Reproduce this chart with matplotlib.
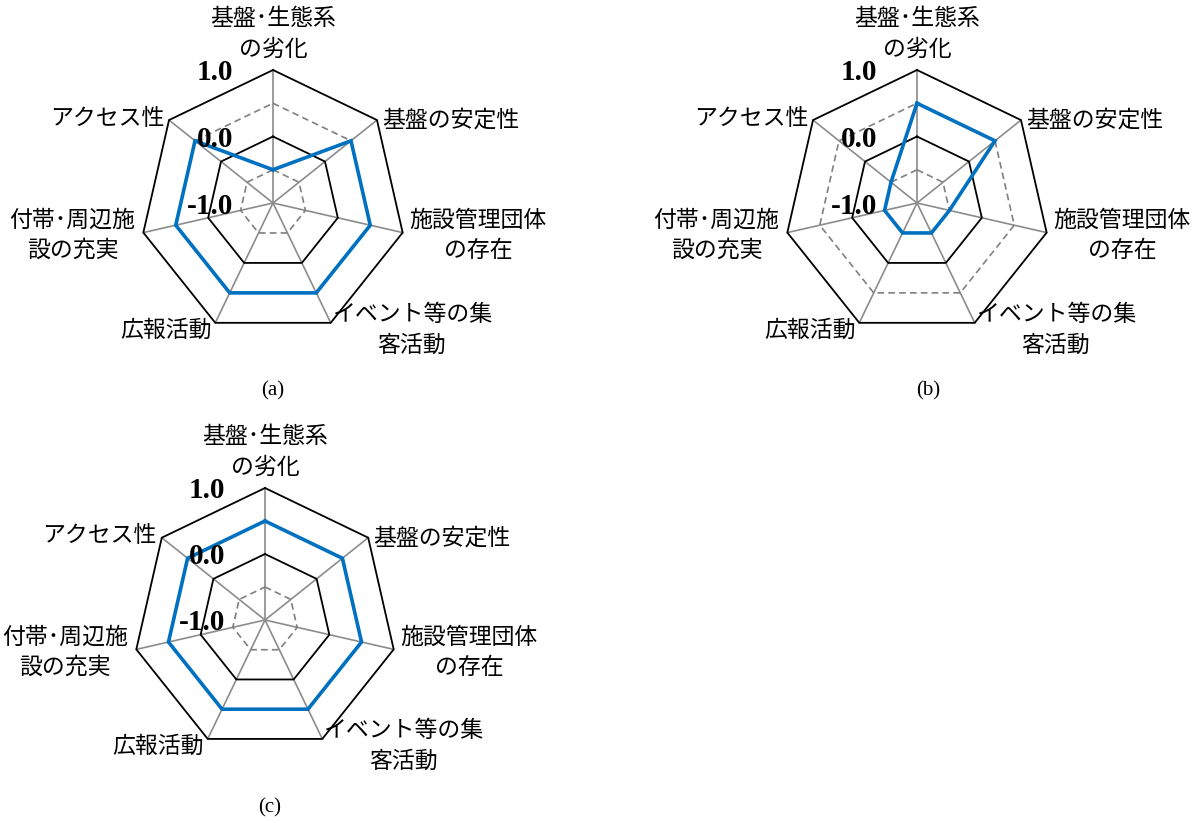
import numpy as np
import matplotlib
matplotlib.use("Agg")
import matplotlib.pyplot as plt

# ---- data ----
categories = ['基盤･生態系\nの劣化', '基盤の安定性', '施設管理団体\nの存在',
              'イベント等の集\n客活動', '広報活動', '付帯･周辺施\n設の充実', 'アクセス性']
values_a = [-0.5, 0.5, 0.5, 0.5, 0.5, 0.5, 0.5]
values_b = [0.5, 0.5, -0.5, -0.5, -0.5, -0.5, -0.5]
values_c = [0.5, 0.5, 0.5, 0.5, 0.5, 0.5, 0.5]
panel_labels = ['(a)', '(b)', '(c)']
ring_values = [-0.5, 0.0, 0.5, 1.0]
tick_values = [1.0, 0.0, -1.0]
tick_labels = ['1.0', '0.0', '-1.0']
r_min, r_max = -1.0, 1.0

W, H, DPI = 1199, 823, 100
fig = plt.figure(figsize=(W / DPI, H / DPI), dpi=DPI)
PT = 72.0 / DPI  # px -> points

CJK = ['Noto Sans CJK JP', 'DejaVu Sans']
SERIF = ['Liberation Serif', 'DejaVu Serif']

# label placement: (ha, dx px, dy px)
label_style = [('center', 0, 36), ('left', 5, 0), ('left', 7, -3), ('left', 1, -7),
               ('right', -4, -7), ('right', -8, -3), ('right', -5, 2)]

ring_style = {-0.5: dict(color='#808080', ls=(0, (4, 2.5)), lw=1.2),
              0.0: dict(color='black', ls='-', lw=1.3),
              0.5: dict(color='#808080', ls=(0, (4, 2.5)), lw=1.2),
              1.0: dict(color='black', ls='-', lw=1.3)}


def radar(center_px, radius_px, values, panel, cap_dx):
    cx, cy = center_px
    w = 2 * radius_px / W
    h = 2 * radius_px / H
    ax = fig.add_axes([cx / W - w / 2, 1 - cy / H - h / 2, w, h], projection='polar')
    ax.set_theta_offset(np.pi / 2)
    ax.set_theta_direction(-1)
    ax.set_ylim(r_min, r_max)
    ax.axis('off')
    n = len(categories)
    theta = np.arange(n) * 2 * np.pi / n
    tc = np.append(theta, theta[0])
    # spokes
    for t in theta:
        ax.plot([t, t], [r_min, r_max], color='#8c8c8c', lw=1.2, zorder=1, clip_on=False)
    # rings
    for r in ring_values:
        ax.plot(tc, [r] * (n + 1), zorder=2, clip_on=False, **ring_style[r])
    # data
    v = list(values) + [values[0]]
    ax.plot(tc, v, color='#0070C0', lw=2.6, zorder=3, clip_on=False, solid_joinstyle='miter')
    # category labels
    for t, lab, (ha, dx, dy) in zip(theta, categories, label_style):
        ax.annotate(lab, xy=(t, r_max), xycoords='data', xytext=(dx * PT, dy * PT),
                    textcoords='offset points', ha=ha, va='center', ma='center',
                    fontsize=16.5, family=CJK, linespacing=1.4, zorder=5)
    # tick labels
    for tv, tl in zip(tick_values, tick_labels):
        ax.annotate(tl, xy=(0, tv), xycoords='data', xytext=(-40 * PT, -3 * PT),
                    textcoords='offset points', ha='right', va='center',
                    fontsize=21, fontweight='bold', family=SERIF, zorder=6)
    # caption
    ax.annotate(panel, xy=(0, r_min), xycoords='data', xytext=(cap_dx * PT, -188 * PT),
                textcoords='offset points', ha='center', va='center',
                fontsize=15, family=SERIF)
    return ax


radar((273, 203), 133, values_a, panel_labels[0], 0)
radar((917, 203), 133, values_b, panel_labels[1], 11)
radar((265, 620), 132, values_c, panel_labels[2], 5)

fig.savefig('out.png', dpi=DPI)
